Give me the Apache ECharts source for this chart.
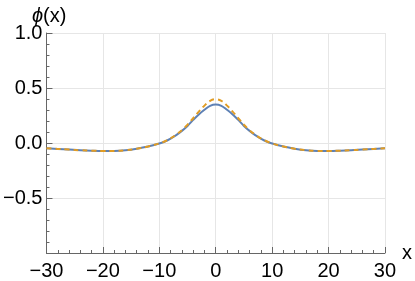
<!DOCTYPE html>
<html>
<head>
<meta charset="utf-8">
<script src="https://cdn.jsdelivr.net/npm/echarts@6/dist/echarts.min.js"></script>
<style>html,body{margin:0;padding:0;background:#fff}#c{width:415px;height:281px}</style>
</head>
<body>
<div id="c"></div>
<script>
// x sample positions
const xs = [-30,-28,-26,-24,-22,-20,-18,-16,-14,-12,-10,-9,-8,-7,-6,-5,-4,-3,-2,-1,0,1,2,3,4,5,6,7,8,9,10,12,14,16,18,20,22,24,26,28,30];
// blue solid curve
const phiSolid = [-0.048,-0.054,-0.060,-0.066,-0.070,-0.072,-0.072,-0.066,-0.052,-0.032,-0.004,0.014,0.040,0.072,0.110,0.155,0.210,0.260,0.302,0.338,0.350,0.338,0.302,0.260,0.210,0.155,0.110,0.072,0.040,0.014,-0.004,-0.032,-0.052,-0.066,-0.072,-0.072,-0.070,-0.066,-0.060,-0.054,-0.048];
// orange dashed curve
const phiDashed = [-0.048,-0.054,-0.060,-0.066,-0.070,-0.072,-0.072,-0.066,-0.052,-0.032,-0.004,0.016,0.042,0.076,0.116,0.166,0.225,0.285,0.340,0.383,0.398,0.383,0.340,0.285,0.225,0.166,0.116,0.076,0.042,0.016,-0.004,-0.032,-0.052,-0.066,-0.072,-0.072,-0.070,-0.066,-0.060,-0.054,-0.048];
const xTicks = [-30,-20,-10,0,10,20,30];
const yTicks = [-1,-0.5,0,0.5,1];

const fmtX = v => (v < 0 ? '\u2212' : '') + Math.abs(v);
const fmtY = v => Math.abs(v + 1) < 1e-9 ? '' : (v < 0 ? '\u2212' : '') + Math.abs(v).toFixed(1);
const ch = echarts.init(document.getElementById('c'));
const font = 'Liberation Sans, Arial, sans-serif';
ch.setOption({
  animation: false,
  grid: {left: 45, right: 27, top: 33, bottom: 28},
  title: {
    text: '{i|\u03d5}(x)', left: 27, top: 1,
    textStyle: {fontFamily: font, fontSize: 20, fontWeight: 'normal', color: '#000',
      rich: {i: {fontStyle: 'italic', fontSize: 20, fontFamily: font, color: '#000'}}}
  },
  xAxis: {
    type: 'value', min: -30, max: 30, interval: 10,
    name: 'x', nameLocation: 'end', nameGap: 13,
    nameTextStyle: {fontFamily: font, fontSize: 20, color: '#000', verticalAlign: 'middle'},
    axisLine: {onZero: false, lineStyle: {color: '#666', width: 1}},
    axisTick: {inside: true, length: 6, lineStyle: {color: '#666'}},
    minorTick: {show: true, splitNumber: 5, length: 3, lineStyle: {color: '#666'}},
    axisLabel: {fontFamily: font, fontSize: 20, color: '#000', margin: 8, formatter: fmtX},
    splitLine: {show: true, lineStyle: {color: '#e6e6e6', width: 1}}
  },
  yAxis: {
    type: 'value', min: -1, max: 1, interval: 0.5,
    axisLine: {show: true, onZero: false, lineStyle: {color: '#666', width: 1}},
    axisTick: {show: true, inside: true, length: 6, lineStyle: {color: '#666'}},
    minorTick: {show: true, splitNumber: 5, length: 3, lineStyle: {color: '#666'}},
    axisLabel: {fontFamily: font, fontSize: 20, color: '#000', margin: 4, formatter: fmtY},
    splitLine: {show: true, lineStyle: {color: '#e6e6e6', width: 1}}
  },
  series: [
    {type: 'line', data: xs.map((x, i) => [x, phiSolid[i]]), smooth: 0.4, showSymbol: false,
     lineStyle: {color: '#5E81B5', width: 2}},
    {type: 'line', data: xs.map((x, i) => [x, phiDashed[i]]), smooth: 0.4, showSymbol: false,
     lineStyle: {color: '#E19C24', width: 2, type: [5, 4]}}
  ]
});
</script>
</body>
</html>
